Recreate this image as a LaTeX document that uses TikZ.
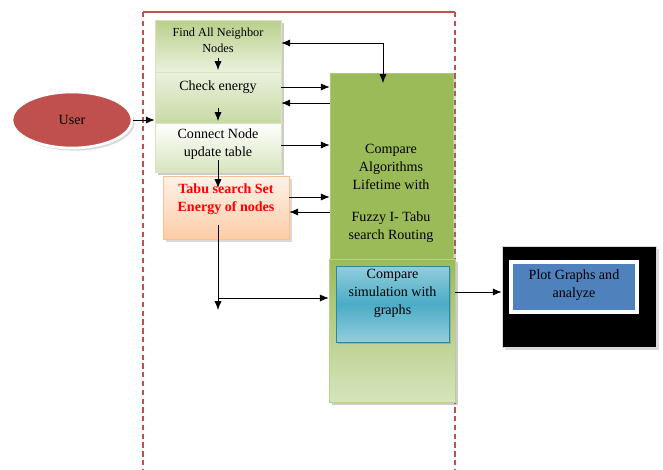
\documentclass[tikz,border=0pt]{standalone}
\usepackage{fontspec}
\setmainfont{Liberation Serif}
\usetikzlibrary{shadows,calc,shapes.geometric,arrows.meta}
\definecolor{framered}{HTML}{C0504D}
\definecolor{olive}{HTML}{9BBB59}
\definecolor{olivelight}{HTML}{D7E4BD}
\definecolor{olivepale}{HTML}{EBF1DE}
\definecolor{peach}{HTML}{FAC090}
\definecolor{peachpale}{HTML}{FDEADA}
\definecolor{aqua}{HTML}{4BACC6}
\definecolor{aqualight}{HTML}{93CDDD}
\definecolor{aquadark}{HTML}{31859C}
\definecolor{steel}{HTML}{4F81BD}
\definecolor{userred}{HTML}{C0504D}
\tikzset{
  stackbox/.style={draw=olivelight,minimum width=2.52cm,drop shadow={shadow xshift=1.5pt,shadow yshift=-1.5pt,opacity=0.4}},
  txt/.style={align=center,inner sep=0pt},
  framedash/.style={draw=framered,dash pattern=on 3pt off 2pt,line width=0.6pt}
}
\begin{document}
\begin{tikzpicture}[x=0.02cm,y=-0.02cm,>={Latex[length=5pt,width=4pt]},font=\fontsize{8}{10.2}\selectfont]
        \useasboundingbox (0,0) rectangle (663,470);
        % frame
        \draw[framedash](143,12)--(143,470);
        \draw[framedash](455,12)--(455,470);
        \draw[framered,line width=1.4pt](143,12)--(455,12);

        % big green block
        \node[fill=olive,draw=olive!80,minimum width=2.46cm,minimum height=3.74cm,drop shadow={shadow xshift=1.5pt,shadow yshift=-1.5pt,opacity=0.3}](algo)at(391.5,166.5){};
        \node[txt](algotxt)at(391,193){Compare\\Algorithms\\Lifetime with\\[8pt]Fuzzy I- Tabu\\search Routing};
        \node[top color=olive,bottom color=olivelight,draw=olive!70,minimum width=2.52cm,minimum height=2.86cm,drop shadow={shadow xshift=1.5pt,shadow yshift=-1.5pt,opacity=0.4}](simpanel)at(392,330.5){};
        \node[top color=aqualight,bottom color=aqualight,middle color=aqua,draw=aquadark,minimum width=2.26cm,minimum height=1.52cm,drop shadow={shadow xshift=1pt,shadow yshift=-1pt,opacity=0.4}](sim)at(392.5,304){};
        \node[txt](simtxt)at(392.5,293){Compare\\simulation with\\graphs};

        % left stack
        \node[stackbox,top color=olive!70,bottom color=olivepale,minimum height=1.04cm](find)at(218,46){};
        \node[txt,font=\fontsize{7}{9}\selectfont](findtxt)at(218,40){Find All Neighbor\\Nodes};
        \node[stackbox,top color=olivepale,bottom color=olive!55,minimum height=1.02cm](check)at(218,97.5){};
        \node[txt](checktxt)at(218,87){Check energy};
        \node[stackbox,top color=white,bottom color=olivelight,minimum height=0.98cm](connect)at(218,147.5){};
        \node[txt](connecttxt)at(218,144.5){Connect Node\\update table};
        \node[draw=peach,top color=peachpale!60,bottom color=peach!80,minimum width=2.52cm,minimum height=1.26cm,drop shadow={shadow xshift=1.5pt,shadow yshift=-1.5pt,opacity=0.3}](tabu)at(226,207.5){};
        \node[txt,text=red,font=\fontsize{8}{10.2}\selectfont\bfseries](tabutxt)at(226,199.5){Tabu search Set\\Energy of nodes};

        % user
        \node[ellipse,fill=userred,draw=white,line width=1.5pt,minimum width=2.4cm,minimum height=1.12cm,drop shadow={shadow xshift=1.5pt,shadow yshift=-1.5pt,opacity=0.3}](user)at(72,120){User};

        % plot box
        \node[fill=black,draw=gray!30,minimum width=3.08cm,minimum height=2.02cm,drop shadow={shadow xshift=1.5pt,shadow yshift=-1.5pt,opacity=0.3}](plotbg)at(579,296.5){};
        \node[fill=steel,draw=white,line width=2pt,minimum width=2.52cm,minimum height=1cm](plot)at(574,287){};
        \node[txt](plottxt)at(574,285){Plot Graphs and\\analyze};

        % connectors
        \draw[->](user.east)--(user.east -| check.west);
        \draw[->](connect.south |- 0,58)--(connect.south |- 0,70);
        \draw[->](connect.south |- 0,108)--(connect.south |- 0,121);
        \draw[->](connect.south |- 0,160)--(connect.south |- 0,188);
        \draw[<->](find.east |- 0,43)-|(383,83);
        \draw[->](check.east |- 0,87)--(algo.west |- 0,87);
        \draw[->](algo.west |- 0,103)--(check.east |- 0,103);
        \draw[->](connect.east |- 0,145)--(algo.west |- 0,145);
        \draw[->](tabu.east |- 0,197)--(algo.west |- 0,197);
        \draw[->](algo.west |- 0,212)--(tabu.east |- 0,212);
        \draw[->](connect.south |- 0,225)--(connect.south |- 0,310);
        \draw[->](connect.south |- 0,298)--(simpanel.west |- 0,298);
        \draw[->](simpanel.east |- 0,292)--(plotbg.west |- 0,292);
    \end{tikzpicture}
\end{document}
